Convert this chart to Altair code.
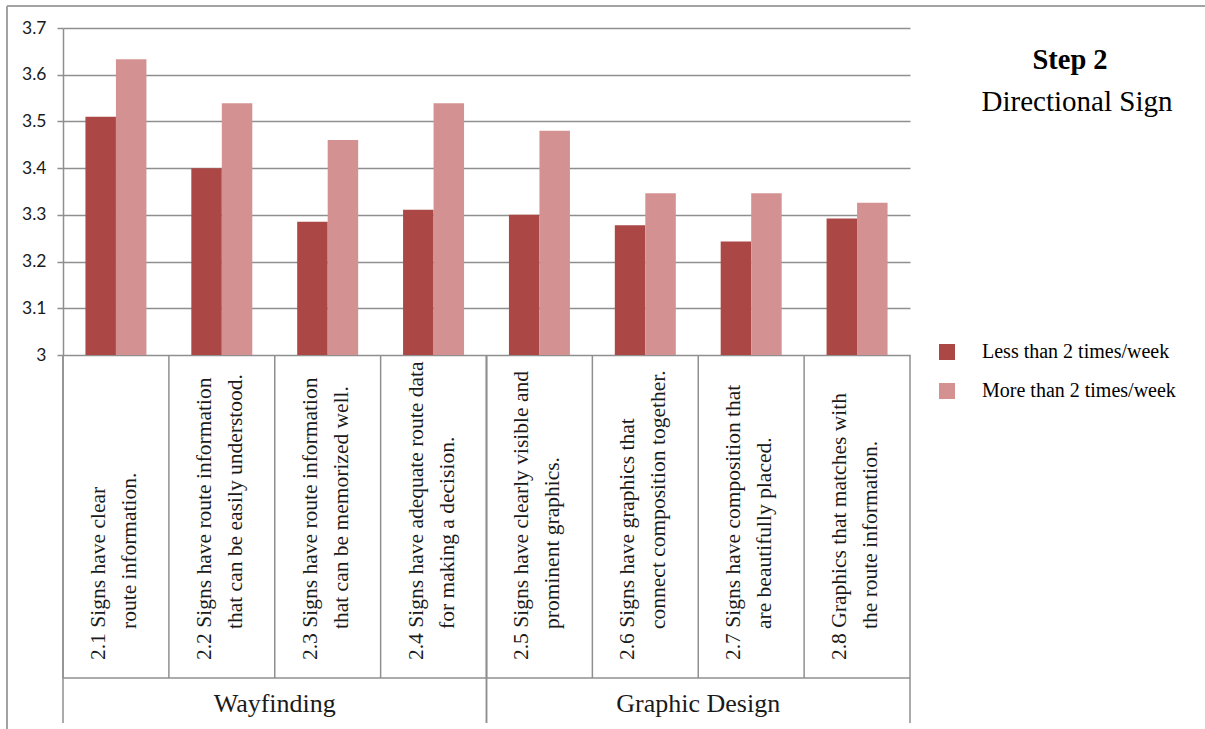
import altair as alt
import pandas as pd

# Survey items (Step 2: directional sign), two-line labels, and their groups
items = ["2.1", "2.2", "2.3", "2.4", "2.5", "2.6", "2.7", "2.8"]
groups = ["Wayfinding", "Wayfinding", "Wayfinding", "Wayfinding",
          "Graphic Design", "Graphic Design", "Graphic Design", "Graphic Design"]
line1 = [
    "2.1  Signs  have  clear",
    "2.2 Signs have route information",
    "2.3 Signs have route information",
    "2.4 Signs have adequate route data",
    "2.5 Signs have clearly visible and",
    "2.6 Signs have graphics that",
    "2.7 Signs have composition that",
    "2.8 Graphics that matches with",
]
line2 = [
    "route information.",
    "that can be easily understood.",
    "that can be memorized well.",
    "for making a decision.",
    "prominent graphics.",
    "connect composition together.",
    "are beautifully placed.",
    "the route information.",
]

# Mean scores per respondent group
series = ["Less than 2 times/week", "More than 2 times/week"]
less = [3.510, 3.400, 3.285, 3.311, 3.300, 3.278, 3.243, 3.292]
more = [3.633, 3.539, 3.460, 3.539, 3.480, 3.346, 3.346, 3.326]

heading = ["Step 2", "Directional Sign"]
y_ticks = [3.0, 3.1, 3.2, 3.3, 3.4, 3.5, 3.6, 3.7]

DARK, LIGHT = "#AB4744", "#D39291"
LINE = "#8f8f8f"
SERIF = "Liberation Serif"
W, H = 847, 327          # plot area
ROW1, ROW2 = 323, 368    # depth of the item row and of the group row below the plot

bars_df = pd.DataFrame({
    "item": items * 2,
    "series": [series[0]] * len(items) + [series[1]] * len(items),
    "value": less + more,
})
items_df = pd.DataFrame({"item": items, "group": groups, "line1": line1, "line2": line2})

# first / middle / last item of every group, for the table lines and group labels
grp_rows = []
for g in dict.fromkeys(groups):
    members = [it for it, gg in zip(items, groups) if gg == g]
    grp_rows.append({"group": g, "first": members[0],
                     "mid": members[len(members) // 2], "last": members[-1]})
grp_df = pd.DataFrame(grp_rows)

x_scale = alt.Scale(domain=items, paddingInner=0, paddingOuter=0)

bars = alt.Chart(bars_df).mark_bar().encode(
    x=alt.X("item:N", scale=x_scale, axis=None),
    xOffset=alt.XOffset("series:N", scale=alt.Scale(domain=series, paddingInner=0, paddingOuter=0.736)),
    y=alt.Y("value:Q",
            scale=alt.Scale(domain=[3, 3.7], zero=False, nice=False),
            axis=alt.Axis(values=y_ticks, format="~g", title=None, grid=True,
                          gridColor=LINE, gridWidth=1.5, domainColor=LINE, domainWidth=1.5,
                          tickColor=LINE, tickWidth=1.5, tickSize=6,
                          labelFont="Lato", labelFontSize=17.5, labelColor="#1a1a1a",
                          labelPadding=11)),
    y2=alt.datum(3),
    color=alt.Color("series:N",
                    scale=alt.Scale(domain=series, range=[DARK, LIGHT]),
                    legend=alt.Legend(title=None, orient="none", legendX=874, legendY=314,
                                      direction="vertical", symbolType="square",
                                      symbolSize=256, symbolStrokeWidth=0, symbolOpacity=1,
                                      labelFont=SERIF, labelFontSize=20, labelColor="#000000",
                                      labelOffset=25, labelLimit=400, rowPadding=19,
                                      padding=0)),
)

# item cells below the axis
cell_lines = alt.Chart(items_df).mark_rule(color=LINE, strokeWidth=1.5).encode(
    x=alt.X("item:N", scale=x_scale, bandPosition=0, axis=None),
    y=alt.value(H), y2=alt.value(H + ROW1),
)
group_left = alt.Chart(grp_df).mark_rule(color=LINE, strokeWidth=1.5).encode(
    x=alt.X("first:N", scale=x_scale, bandPosition=0, axis=None),
    y=alt.value(H), y2=alt.value(H + ROW2),
)
group_right = alt.Chart(grp_df).mark_rule(color=LINE, strokeWidth=1.5).encode(
    x=alt.X("last:N", scale=x_scale, bandPosition=1, axis=None),
    y=alt.value(H), y2=alt.value(H + ROW2),
)
row_line = alt.Chart(grp_df.head(1)).mark_rule(color=LINE, strokeWidth=1.5).encode(
    x=alt.value(0), x2=alt.value(W), y=alt.value(H + ROW1),
)

label_style = dict(angle=270, align="left", baseline="middle", font=SERIF,
                   fontSize=21.5, color="#1a1a1a")
text1 = alt.Chart(items_df).mark_text(dy=-17, dx=0, **label_style).encode(
    x=alt.X("item:N", scale=x_scale, bandPosition=0.5, axis=None),
    y=alt.value(H + 305), text="line1:N",
)
text2 = alt.Chart(items_df).mark_text(dy=14, dx=31, **label_style).encode(
    x=alt.X("item:N", scale=x_scale, bandPosition=0.5, axis=None),
    y=alt.value(H + 305), text="line2:N",
)
group_text = alt.Chart(grp_df).mark_text(font=SERIF, fontSize=26, color="#1a1a1a",
                                         align="center", baseline="alphabetic").encode(
    x=alt.X("mid:N", scale=x_scale, bandPosition=0, axis=None),
    y=alt.value(H + 357), text="group:N",
)

# heading at the upper right
head_df = pd.DataFrame({"t": heading})
head1 = alt.Chart(head_df.head(1)).mark_text(font=SERIF, fontSize=28.5, fontWeight="bold",
                                             align="center", baseline="alphabetic",
                                             color="#000000").encode(
    x=alt.value(1007), y=alt.value(41), text="t:N")
head2 = alt.Chart(head_df.tail(1)).mark_text(font=SERIF, fontSize=29,
                                             align="center", baseline="alphabetic",
                                             color="#000000").encode(
    x=alt.value(1014), y=alt.value(83), text="t:N")

# frame lines along the top and left edge
frame_top = alt.Chart(grp_df.head(1)).mark_rule(color="#a3a3a3", strokeWidth=2).encode(
    x=alt.value(-56), x2=alt.value(1142), y=alt.value(-22))
frame_left = alt.Chart(grp_df.head(1)).mark_rule(color="#a3a3a3", strokeWidth=2).encode(
    x=alt.value(-56), y=alt.value(-22), y2=alt.value(701))

chart = alt.layer(
    bars, cell_lines, group_left, group_right, row_line,
    text1, text2, group_text, head1, head2, frame_top, frame_left,
).properties(
    width=W, height=H,
    autosize=alt.AutoSizeParams(type="none"),
    padding={"left": 63, "top": 28, "right": 295, "bottom": 374},
    background="white",
).configure_view(stroke=None)

chart.save("out.html", embed_options={"renderer": "svg", "actions": False})
